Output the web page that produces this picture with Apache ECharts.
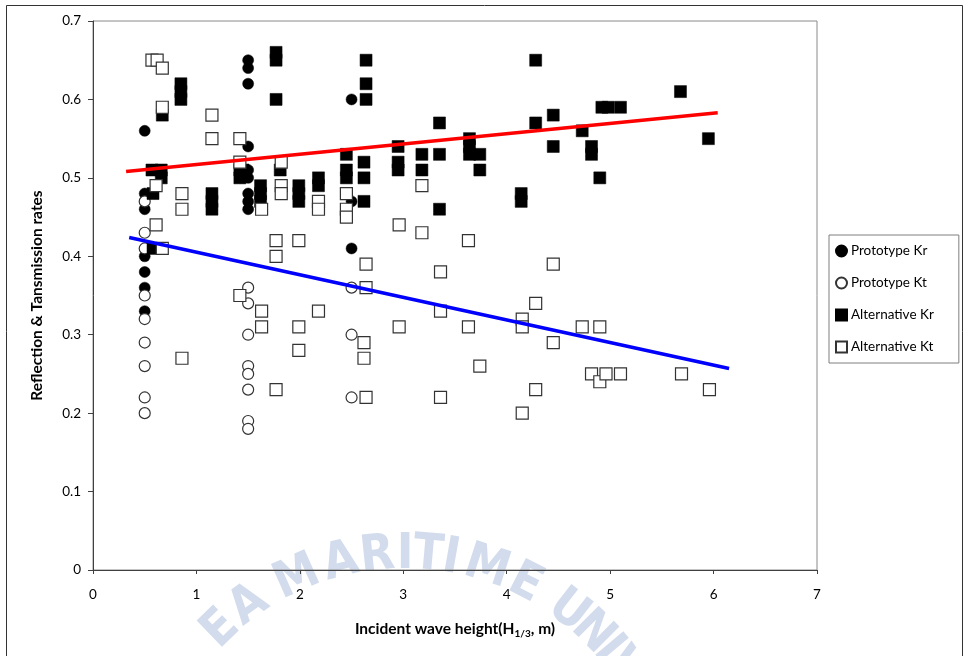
<!DOCTYPE html>
<html>
<head>
<meta charset="utf-8">
<script src="https://cdn.jsdelivr.net/npm/echarts@6/dist/echarts.min.js"></script>
<style>
html,body{margin:0;padding:0;background:#fff;}
#chart{width:964px;height:656px;}
</style>
</head>
<body>
<div id="chart"></div>
<script>
// ---- data ----
var seriesNames = ['Prototype Kr', 'Prototype Kt', 'Alternative Kr', 'Alternative Kt'];
var xTicks = [0, 1, 2, 3, 4, 5, 6, 7];
var yTicks = [0, 0.1, 0.2, 0.3, 0.4, 0.5, 0.6, 0.7];

var prototypeKr = [
  [0.5,0.56],[0.5,0.48],[0.5,0.46],[0.5,0.40],[0.5,0.38],[0.5,0.36],[0.5,0.33],
  [1.5,0.65],[1.5,0.64],[1.5,0.62],[1.5,0.54],[1.5,0.51],[1.5,0.50],[1.5,0.48],[1.5,0.47],[1.5,0.46],
  [2.5,0.60],[2.5,0.47],[2.5,0.41]
];
var prototypeKt = [
  [0.5,0.47],[0.5,0.43],[0.5,0.41],[0.5,0.35],[0.5,0.32],[0.5,0.29],[0.5,0.26],[0.5,0.22],[0.5,0.20],
  [1.5,0.36],[1.5,0.34],[1.5,0.30],[1.5,0.26],[1.5,0.25],[1.5,0.23],[1.5,0.19],[1.5,0.18],
  [2.5,0.36],[2.5,0.30],[2.5,0.22]
];
var alternativeKr = [
  [0.57,0.51],[0.66,0.51],[0.66,0.50],[0.58,0.48],[0.58,0.41],[0.67,0.58],
  [0.85,0.62],[0.85,0.61],[0.85,0.60],
  [1.15,0.48],[1.15,0.47],[1.15,0.46],
  [1.42,0.51],[1.42,0.50],[1.45,0.51],
  [1.62,0.49],[1.62,0.48],[1.62,0.47],
  [1.77,0.66],[1.77,0.65],[1.77,0.60],[1.81,0.51],
  [1.99,0.49],[1.99,0.48],[1.99,0.47],
  [2.18,0.50],[2.18,0.49],
  [2.45,0.53],[2.45,0.51],[2.45,0.50],
  [2.64,0.65],[2.64,0.62],[2.64,0.60],[2.62,0.52],[2.62,0.50],[2.62,0.47],
  [2.95,0.54],[2.95,0.52],[2.95,0.51],
  [3.18,0.53],[3.18,0.51],
  [3.35,0.57],[3.35,0.53],[3.35,0.46],
  [3.64,0.55],[3.64,0.54],[3.64,0.53],[3.74,0.53],[3.74,0.51],
  [4.14,0.48],[4.14,0.47],
  [4.28,0.65],[4.28,0.57],
  [4.45,0.58],[4.45,0.54],
  [4.73,0.56],[4.82,0.54],[4.82,0.53],[4.90,0.50],[4.92,0.59],[4.98,0.59],[5.10,0.59],
  [5.68,0.61],[5.95,0.55]
];
var alternativeKt = [
  [0.57,0.65],[0.62,0.65],[0.67,0.64],[0.67,0.59],[0.61,0.49],[0.61,0.44],[0.67,0.41],
  [0.86,0.48],[0.86,0.46],[0.86,0.27],
  [1.15,0.58],[1.15,0.55],
  [1.42,0.55],[1.42,0.52],[1.42,0.35],
  [1.63,0.46],[1.63,0.33],[1.63,0.31],
  [1.82,0.52],[1.82,0.49],[1.82,0.48],
  [1.77,0.42],[1.77,0.40],[1.77,0.23],
  [1.99,0.42],[1.99,0.31],[1.99,0.28],
  [2.18,0.47],[2.18,0.46],[2.18,0.33],
  [2.45,0.48],[2.45,0.46],[2.45,0.45],
  [2.64,0.39],[2.64,0.36],[2.62,0.29],[2.62,0.27],[2.64,0.22],
  [2.96,0.44],[2.96,0.31],
  [3.18,0.49],[3.18,0.43],
  [3.36,0.38],[3.36,0.33],[3.36,0.22],
  [3.63,0.42],[3.63,0.31],
  [3.74,0.26],
  [4.15,0.32],[4.15,0.31],[4.15,0.20],
  [4.28,0.34],[4.28,0.23],
  [4.45,0.39],[4.45,0.29],
  [4.73,0.31],[4.90,0.31],
  [4.82,0.25],[4.90,0.24],[4.96,0.25],[5.10,0.25],
  [5.69,0.25],[5.96,0.23]
];
// linear trend lines (end points)
var trendKr = [[0.32,0.508],[6.04,0.583]];
var trendKt = [[0.35,0.424],[6.15,0.257]];

// watermark letters (decorative)
var wmLetters = ['E','A','M','A','R','I','T','I','M','E','U','N','I','V'];
var wmAngles  = [134,126,114,104,96,90,85,80,72,63,52,45,40,35];

var FONT = 'Lato';
var chart = echarts.init(document.getElementById('chart'), null, {renderer:'canvas'});

var wm = [];
for (var i = 0; i < wmLetters.length; i++) {
  var a = wmAngles[i] * Math.PI / 180;
  var cx = 405, cy = 820, R = 265;
  wm.push({
    type: 'text',
    x: cx + R * Math.cos(a),
    y: cy - R * Math.sin(a),
    rotation: a - Math.PI / 2,
    z: -10,
    silent: true,
    style: {
      text: wmLetters[i],
      fill: 'rgba(165,185,220,0.5)',
      font: 'bold 50px "DejaVu Sans Condensed"',
      align: 'center',
      verticalAlign: 'middle'
    }
  });
}

var openStyle = {color:'#ffffff', borderColor:'#333333', borderWidth:1.2, opacity:1};
var fillStyle = {color:'#000000', borderColor:'#000000', borderWidth:0.5, opacity:1};

var option = {
  animation: false,
  backgroundColor: '#ffffff',
  textStyle: {fontFamily: FONT},
  graphic: [{
    type: 'rect',
    shape: {x: 6.5, y: 5.5, width: 956, height: 700},
    style: {fill: 'none', stroke: '#333', lineWidth: 1},
    z: -20, silent: true
  }].concat(wm),
  grid: {
    left: 93, top: 21, right: 147, bottom: 86,
    show: true, borderColor: '#8a8a8a', borderWidth: 1, backgroundColor: 'transparent'
  },
  legend: {
    orient: 'vertical',
    left: 829, top: 235,
    data: seriesNames,
    itemWidth: 11, itemHeight: 11, itemGap: 18,
    padding: [9, 25, 9, 6],
    borderColor: '#7f7f7f', borderWidth: 1,
    backgroundColor: '#fff',
    textStyle: {fontFamily: FONT, fontSize: 13.5, color: '#000', padding:[0,0,0,-1]}
  },
  xAxis: {
    type: 'value', min: 0, max: 7, interval: 1,
    name: '{a|Incident wave height(H}{s|1/3}{a|, m)}',
    nameLocation: 'middle', nameGap: 49,
    nameTextStyle: {
      rich: {
        a: {fontFamily: FONT, fontWeight: 'bold', fontSize: 15.5, color: '#000', lineHeight: 20},
        s: {fontFamily: FONT, fontWeight: 'bold', fontSize: 10, color: '#000', lineHeight: 20, verticalAlign: 'bottom', padding:[7,0,0,0]}
      }
    },
    splitLine: {show: false},
    axisLine: {show: true, lineStyle: {color: '#404040', width: 1}},
    axisTick: {show: true, length: 4, inside: false, lineStyle: {color: '#404040'}},
    axisLabel: {margin: 18, fontSize: 13.5, color: '#000', fontFamily: FONT,
      formatter: function (v) { return xTicks.indexOf(v) >= 0 ? String(v) : ''; }}
  },
  yAxis: {
    type: 'value', min: 0, max: 0.7, interval: 0.1,
    name: 'Reflection & Tansmission rates',
    nameLocation: 'middle', nameGap: 48,
    nameTextStyle: {fontFamily: FONT, fontWeight: 'bold', fontSize: 15.5, color: '#000'},
    splitLine: {show: false},
    axisLine: {show: true, lineStyle: {color: '#404040', width: 1}},
    axisTick: {show: true, length: 5, lineStyle: {color: '#404040'}},
    axisLabel: {margin: 12, fontSize: 13.5, color: '#000', fontFamily: FONT,
      formatter: function (v) {
        var r = Math.round(v * 10) / 10;
        return yTicks.indexOf(r) >= 0 ? (r === 0 ? '0' : r.toFixed(1)) : '';
      }}
  },
  series: [
    {name: seriesNames[0], type: 'scatter', data: prototypeKr, symbol: 'circle', symbolSize: 11, itemStyle: fillStyle, z: 2},
    {name: seriesNames[1], type: 'scatter', data: prototypeKt, symbol: 'circle', symbolSize: 11, itemStyle: openStyle, z: 3},
    {name: seriesNames[2], type: 'scatter', data: alternativeKr, symbol: 'rect', symbolSize: 12, itemStyle: fillStyle, z: 4},
    {name: seriesNames[3], type: 'scatter', data: alternativeKt, symbol: 'rect', symbolSize: 12, itemStyle: openStyle, z: 5},
    {name: 'trendKr', type: 'line', data: trendKr, showSymbol: false, symbol: 'none', lineStyle: {color: '#ff0000', width: 3.5}, z: 6, silent: true},
    {name: 'trendKt', type: 'line', data: trendKt, showSymbol: false, symbol: 'none', lineStyle: {color: '#0000ff', width: 3.5}, z: 6, silent: true}
  ]
};
chart.setOption(option);
</script>
</body>
</html>
